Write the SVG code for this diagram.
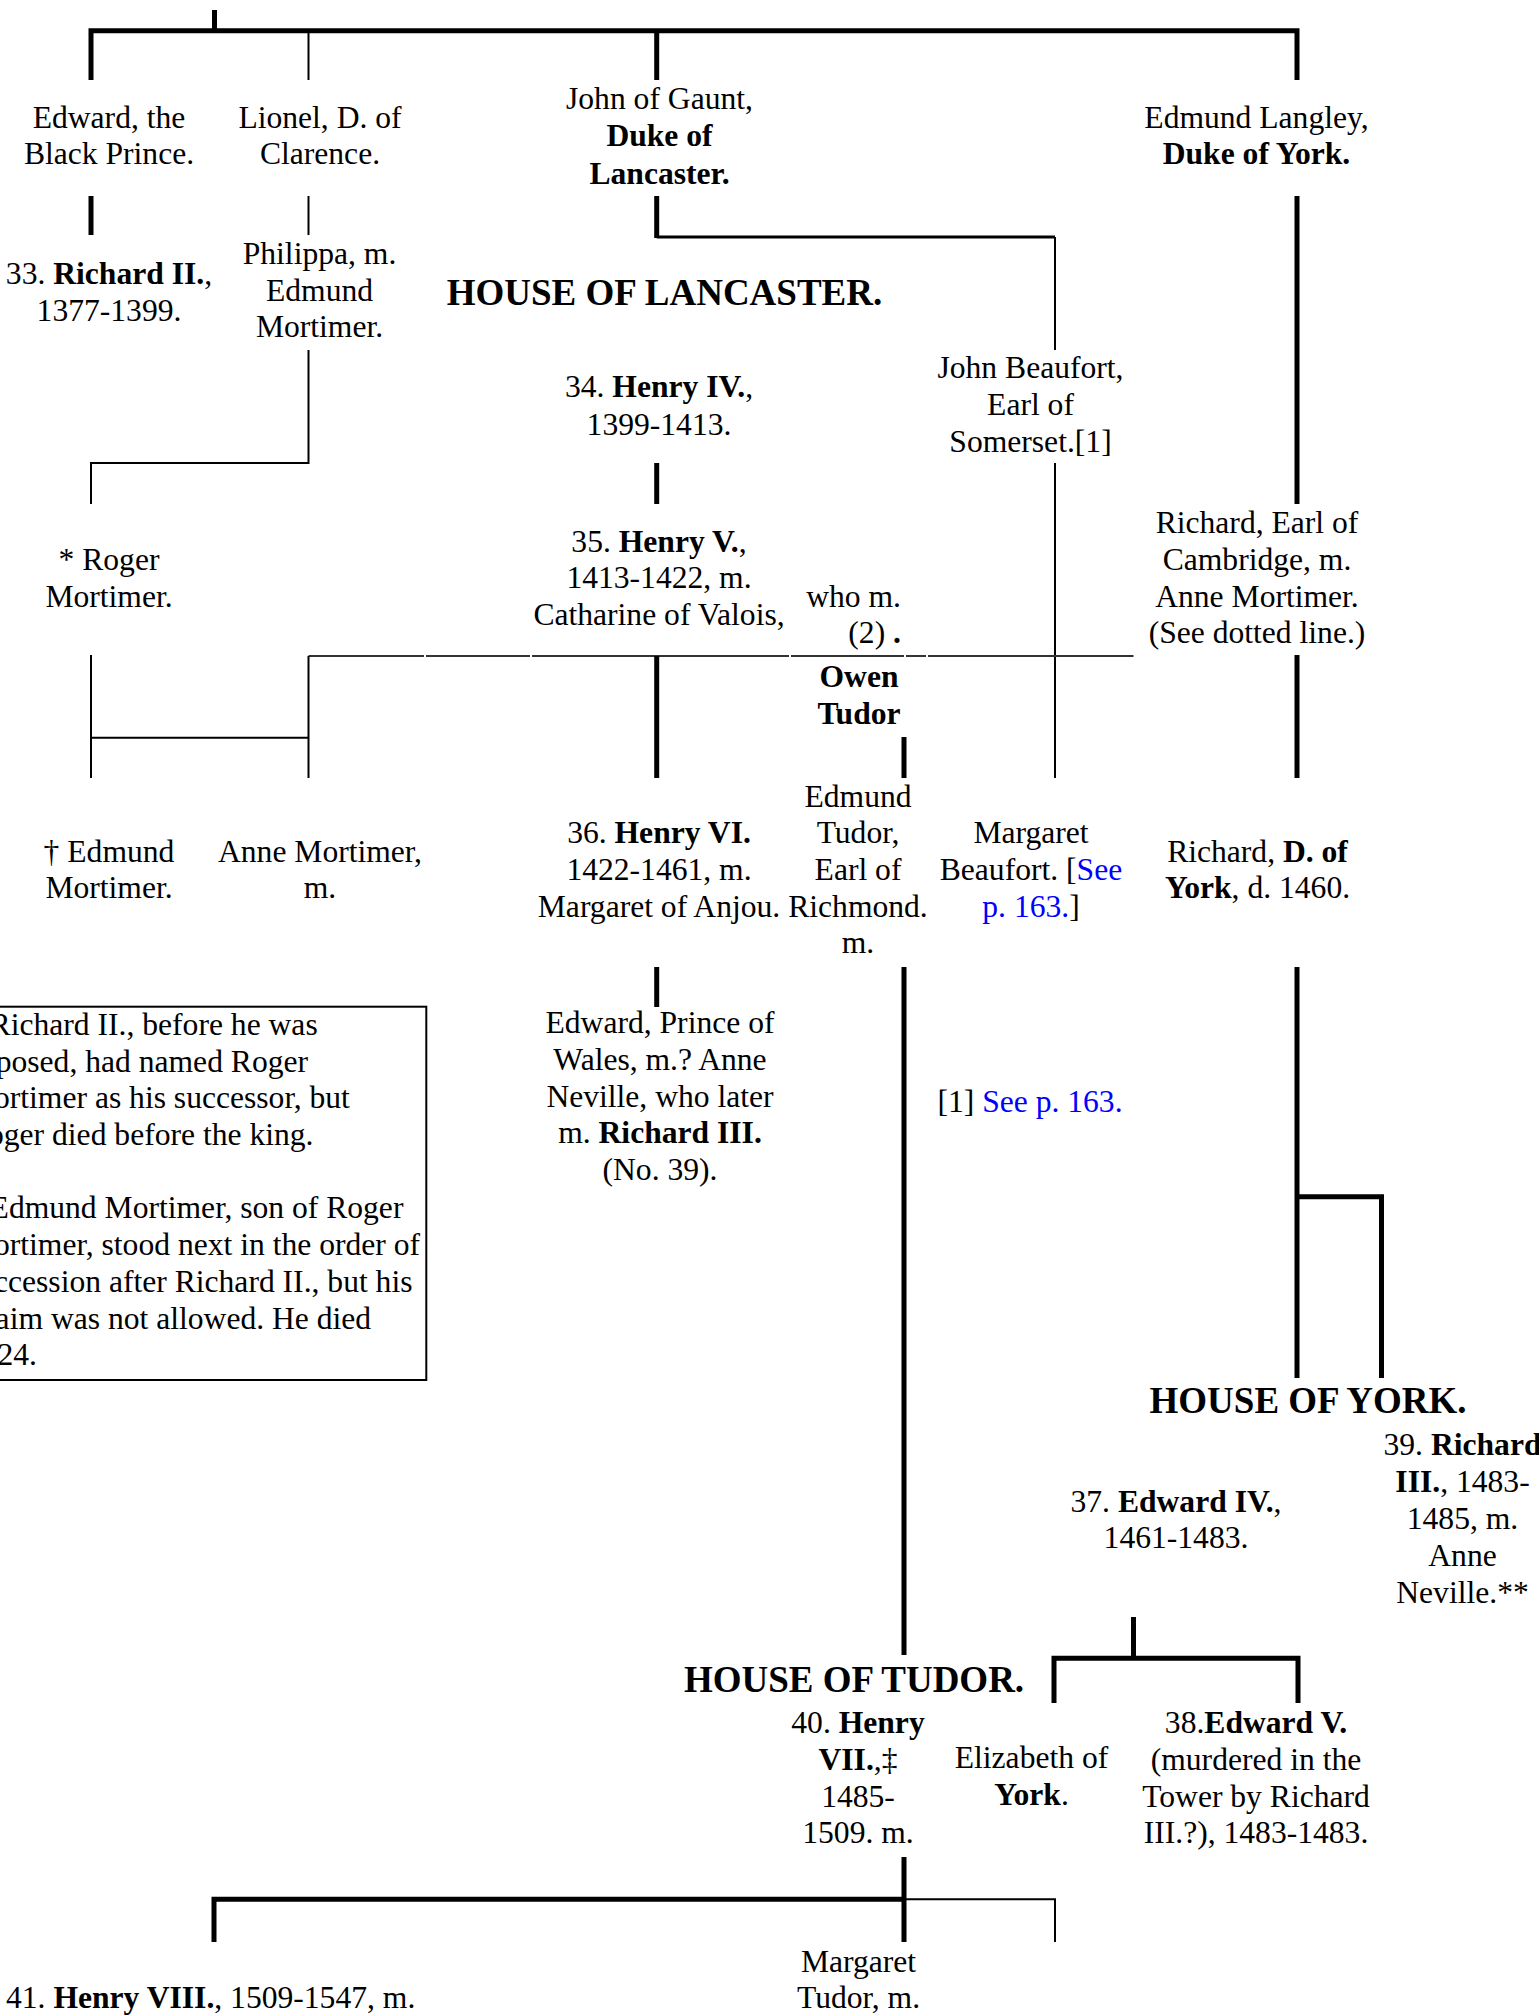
<svg xmlns="http://www.w3.org/2000/svg" width="1539" height="2015" viewBox="0 0 1539 2015">
  <style>
    text { font-family: "Liberation Serif", "Times New Roman", serif; font-size: 31.6px; fill: #000; text-anchor: middle; }
    .b { font-weight: bold; }
    .h { font-size: 37px; font-weight: bold; }
    .lk { fill: #0000ff; }
    .st { text-anchor: start; }
    .en { text-anchor: end; }
    .thick { stroke: #000; stroke-width: 5; fill: none; stroke-linejoin: miter; }
    .mid { stroke: #000; stroke-width: 3; fill: none; }
    .thin { stroke: #000; stroke-width: 2; fill: none; }
    .dot { stroke: #333; stroke-width: 2; fill: none; }
  </style>
  <rect width="1539" height="2015" fill="#fff"/>

  <g id="connectors">
    <!-- Edward III's children -->
    <path class="thick" d="M214.5 10 V33"/>
    <path class="thick" d="M91 80 V30.8 H1297 V80"/>
    <path class="thin" d="M308.5 33 V80"/>
    <path class="thick" d="M656.7 33 V80"/>
    <!-- second generation -->
    <path class="thick" d="M91 196 V235"/>
    <path class="thin" d="M308.5 196 V235"/>
    <path class="thick" d="M656.7 196 V238"/>
    <path class="mid" d="M656.7 237 H1055"/>
    <path class="thin" d="M1055 237 V350"/>
    <path class="thick" d="M1297 196 V504"/>
    <path class="thin" d="M308.5 350 V463 H91 V504"/>
    <path class="thick" d="M656.7 463 V504"/>
    <path class="thin" d="M1055 463 V778"/>
    <!-- dotted marriage line -->
    <path class="dot" d="M308.5 656 H424 M426 656 H530 M532 656 H789 M791 656 H904 M906 656 H926 M928 656 H1133.5"/>
    <path class="thin" d="M91 655 V778 M91 737.7 H308.5 M308.5 656 V778"/>
    <path class="thick" d="M656.7 656 V778"/>
    <path class="thick" d="M904 737 V778"/>
    <path class="thick" d="M1297 655 V778"/>
    <!-- fourth generation -->
    <path class="thick" d="M656.7 967 V1007"/>
    <path class="thick" d="M904 967 V1655"/>
    <path class="thick" d="M1297 967 V1378 M1297 1196.7 H1381.5 V1378"/>
    <path class="thick" d="M1133.5 1617 V1658.3 M1054 1703 V1658.3 H1298 V1703"/>
    <!-- Tudor descendants -->
    <path class="thick" d="M904 1857 V1942 M214 1942 V1899.3 H904"/>
    <path class="thin" d="M904 1899.3 H1055 V1942"/>
  </g>

  <g id="edward-black-prince">
    <text x="109" y="127.5">Edward, the</text>
    <text x="109" y="164">Black Prince.</text>
  </g>
  <g id="lionel">
    <text x="320" y="127.5">Lionel, D. of</text>
    <text x="320" y="164">Clarence.</text>
  </g>
  <g id="john-of-gaunt">
    <text x="659.5" y="108.5">John of Gaunt,</text>
    <text x="659.5" y="146" class="b">Duke of</text>
    <text x="659.5" y="183.5" class="b">Lancaster.</text>
  </g>
  <g id="edmund-langley">
    <text x="1256.5" y="127.5">Edmund Langley,</text>
    <text x="1256.5" y="164" class="b">Duke of York.</text>
  </g>
  <g id="richard-ii">
    <text x="109" y="284">33. <tspan class="b">Richard II.</tspan>,</text>
    <text x="109" y="320.5">1377-1399.</text>
  </g>
  <g id="philippa">
    <text x="319.5" y="264">Philippa, m.</text>
    <text x="319.5" y="300.5">Edmund</text>
    <text x="319.5" y="337">Mortimer.</text>
  </g>
  <g id="house-lancaster">
    <text x="664.5" y="305" class="h">HOUSE OF LANCASTER.</text>
  </g>
  <g id="henry-iv">
    <text x="659" y="397.3">34. <tspan class="b">Henry IV.</tspan>,</text>
    <text x="659" y="434.5">1399-1413.</text>
  </g>
  <g id="john-beaufort">
    <text x="1030.5" y="378">John Beaufort,</text>
    <text x="1030.5" y="415">Earl of</text>
    <text x="1030.5" y="452">Somerset.[1]</text>
  </g>
  <g id="roger-mortimer">
    <text x="109" y="570">* Roger</text>
    <text x="109" y="606.7">Mortimer.</text>
  </g>
  <g id="henry-v">
    <text x="659" y="551.7">35. <tspan class="b">Henry V.</tspan>,</text>
    <text x="659" y="588.4">1413-1422, m.</text>
    <text x="659" y="625">Catharine of Valois,</text>
  </g>
  <g id="who-married">
    <text x="901" y="606.7" class="en">who m.</text>
    <text x="901" y="643.4" class="en">(2) <tspan class="b">.</tspan></text>
  </g>
  <g id="richard-cambridge">
    <text x="1257" y="533">Richard, Earl of</text>
    <text x="1257" y="570">Cambridge, m.</text>
    <text x="1257" y="606.7">Anne Mortimer.</text>
    <text x="1257" y="643.4">(See dotted line.)</text>
  </g>
  <g id="owen-tudor">
    <text x="859" y="687" class="b">Owen</text>
    <text x="859" y="724" class="b">Tudor</text>
  </g>
  <g id="edmund-mortimer">
    <text x="109" y="861.7">† Edmund</text>
    <text x="109" y="898.4">Mortimer.</text>
  </g>
  <g id="anne-mortimer">
    <text x="320" y="861.7">Anne Mortimer,</text>
    <text x="320" y="898.4">m.</text>
  </g>
  <g id="henry-vi">
    <text x="659" y="843.3">36. <tspan class="b">Henry VI.</tspan></text>
    <text x="659" y="880">1422-1461, m.</text>
    <text x="659" y="916.7">Margaret of Anjou.</text>
  </g>
  <g id="edmund-tudor">
    <text x="858" y="806.6">Edmund</text>
    <text x="858" y="843.3">Tudor,</text>
    <text x="858" y="880">Earl of</text>
    <text x="858" y="916.7">Richmond.</text>
    <text x="858" y="953.4">m.</text>
  </g>
  <g id="margaret-beaufort">
    <text x="1031" y="843.3">Margaret</text>
    <text x="1031" y="880">Beaufort. [<tspan class="lk">See</tspan></text>
    <text x="1031" y="916.7"><tspan class="lk">p. 163.</tspan>]</text>
  </g>
  <g id="richard-york">
    <text x="1257.5" y="861.7">Richard, <tspan class="b">D. of</tspan></text>
    <text x="1257.5" y="898.4"><tspan class="b">York</tspan>, d. 1460.</text>
  </g>
  <g id="notes-box">
    <rect x="-20" y="1006.7" width="446.3" height="373.3" fill="none" stroke="#000" stroke-width="2"/>
    <text class="st" x="-10.4" y="1035">Richard II., before he was</text>
    <text class="st" x="-4.3" y="1071.7">posed, had named Roger</text>
    <text class="st" x="-6" y="1108.4">ortimer as his successor, but</text>
    <text class="st" x="-12" y="1145">oger died before the king.</text>
    <text class="st" x="-10.4" y="1218.4">Edmund Mortimer, son of Roger</text>
    <text class="st" x="-6" y="1255">ortimer, stood next in the order of</text>
    <text class="st" x="-6" y="1291.8">ccession after Richard II., but his</text>
    <text class="st" x="-4.4" y="1328.5">aim was not allowed. He died</text>
    <text class="st" x="-2.5" y="1365">24.</text>
  </g>
  <g id="edward-prince-of-wales">
    <text x="660" y="1033.3">Edward, Prince of</text>
    <text x="660" y="1070">Wales, m.? Anne</text>
    <text x="660" y="1106.7">Neville, who later</text>
    <text x="660" y="1143.4">m. <tspan class="b">Richard III.</tspan></text>
    <text x="660" y="1180">(No. 39).</text>
  </g>
  <g id="footnote">
    <text x="1030" y="1111.7">[1] <tspan class="lk">See p. 163.</tspan></text>
  </g>
  <g id="house-york">
    <text x="1308" y="1413.3" class="h">HOUSE OF YORK.</text>
  </g>
  <g id="richard-iii">
    <text x="1462.5" y="1455">39. <tspan class="b">Richard</tspan></text>
    <text x="1462.5" y="1492"><tspan class="b">III.</tspan>, 1483-</text>
    <text x="1462.5" y="1529">1485, m.</text>
    <text x="1462.5" y="1566">Anne</text>
    <text x="1462.5" y="1603">Neville.**</text>
  </g>
  <g id="edward-iv">
    <text x="1176" y="1511.7">37. <tspan class="b">Edward IV.</tspan>,</text>
    <text x="1176" y="1548.4">1461-1483.</text>
  </g>
  <g id="house-tudor">
    <text x="854" y="1691.7" class="h">HOUSE OF TUDOR.</text>
  </g>
  <g id="henry-vii">
    <text x="858" y="1733.3">40. <tspan class="b">Henry</tspan></text>
    <text x="858" y="1770"><tspan class="b">VII.</tspan>,‡</text>
    <text x="858" y="1806.7">1485-</text>
    <text x="858" y="1843.4">1509. m.</text>
  </g>
  <g id="elizabeth-of-york">
    <text x="1031.5" y="1768.3">Elizabeth of</text>
    <text x="1031.5" y="1805"><tspan class="b">York</tspan>.</text>
  </g>
  <g id="edward-v">
    <text x="1256" y="1733.3">38.<tspan class="b">Edward V.</tspan></text>
    <text x="1256" y="1770">(murdered in the</text>
    <text x="1256" y="1806.7">Tower by Richard</text>
    <text x="1256" y="1843.4">III.?), 1483-1483.</text>
  </g>
  <g id="henry-viii">
    <text class="st" x="6" y="2008.4">41. <tspan class="b">Henry VIII.</tspan>, 1509-1547, m.</text>
  </g>
  <g id="margaret-tudor">
    <text x="858.5" y="1971.7">Margaret</text>
    <text x="858.5" y="2008.4">Tudor, m.</text>
  </g>
</svg>
